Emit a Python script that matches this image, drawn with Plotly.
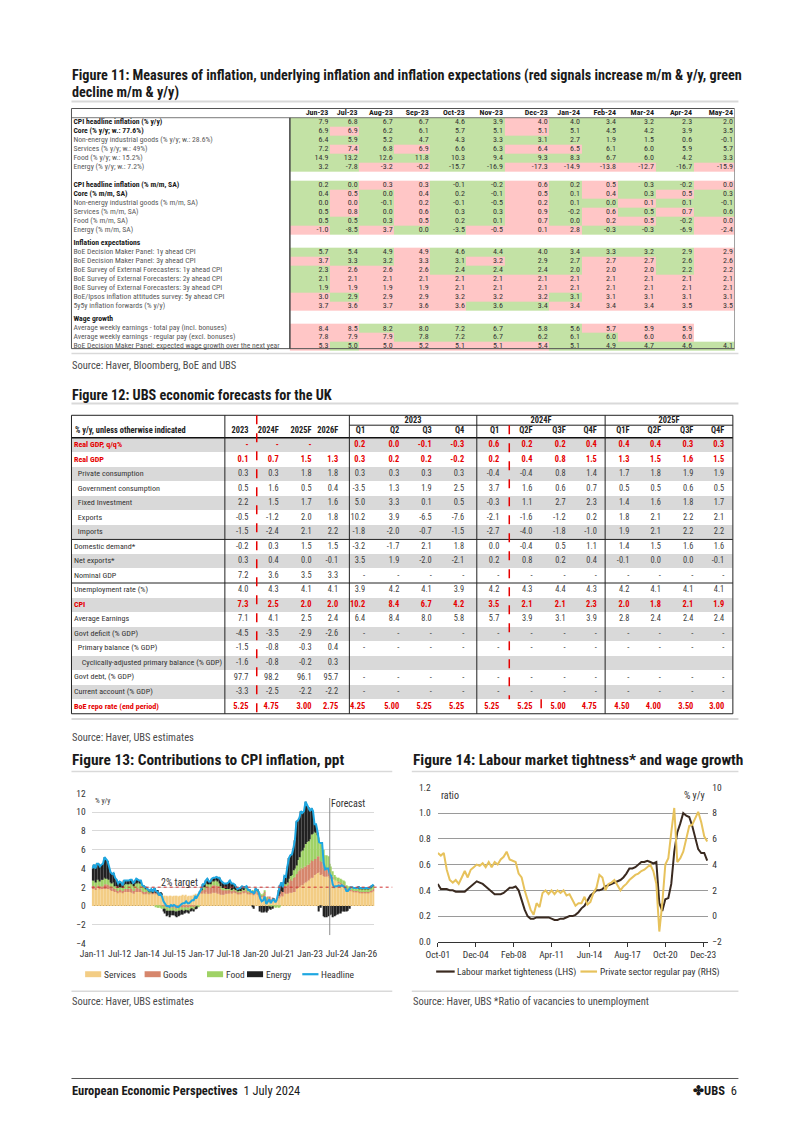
import plotly.graph_objects as go
import pandas as pd
import math

W, H = 802, 1134
NARROW = "Roboto Condensed, Liberation Sans Narrow, sans-serif"
TXT = "#3c3c3c"
DARK = "#1a1a1a"
RED = "#e60000"
GREEN_CELL = "#c3e2a5"
RED_CELL = "#ffc6c6"

# ======================= Figure 11 data =======================
months11 = ["Jun-23", "Jul-23", "Aug-23", "Sep-23", "Oct-23", "Nov-23",
            "Dec-23", "Jan-24", "Feb-24", "Mar-24", "Apr-24", "May-24"]
cpi_yy = [7.9, 6.8, 6.7, 6.7, 4.6, 3.9, 4.0, 4.0, 3.4, 3.2, 2.3, 2.0]
core_yy = [6.9, 6.9, 6.2, 6.1, 5.7, 5.1, 5.1, 5.1, 4.5, 4.2, 3.9, 3.5]
neig_yy = [6.4, 5.9, 5.2, 4.7, 4.3, 3.3, 3.1, 2.7, 1.9, 1.5, 0.6, -0.1]
serv_yy = [7.2, 7.4, 6.8, 6.9, 6.6, 6.3, 6.4, 6.5, 6.1, 6.0, 5.9, 5.7]
food_yy = [14.9, 13.2, 12.6, 11.8, 10.3, 9.4, 9.3, 8.3, 6.7, 6.0, 4.2, 3.3]
energy_yy = [3.2, -7.8, -3.2, -0.2, -15.7, -16.9, -17.3, -14.9, -13.8, -12.7, -16.7, -15.9]
cpi_mm = [0.2, 0.0, 0.3, 0.3, -0.1, -0.2, 0.6, 0.2, 0.5, 0.3, -0.2, 0.0]
core_mm = [0.4, 0.5, 0.0, 0.4, 0.2, -0.1, 0.5, 0.1, 0.4, 0.3, 0.5, 0.3]
neig_mm = [0.0, 0.0, -0.1, 0.2, -0.1, -0.5, 0.2, 0.1, 0.0, 0.1, 0.1, -0.1]
serv_mm = [0.5, 0.8, 0.0, 0.6, 0.3, 0.3, 0.9, -0.2, 0.6, 0.5, 0.7, 0.6]
food_mm = [0.5, 0.5, 0.3, 0.5, 0.2, 0.1, 0.7, 0.0, 0.2, 0.5, -0.2, 0.0]
energy_mm = [-1.0, -8.5, 3.7, 0.0, -3.5, -0.5, 0.1, 2.8, -0.3, -0.3, -6.9, -2.4]
dmp_1y = [5.7, 5.4, 4.9, 4.9, 4.6, 4.4, 4.0, 3.4, 3.3, 3.2, 2.9, 2.9]
dmp_3y = [3.7, 3.3, 3.2, 3.3, 3.1, 3.2, 2.9, 2.7, 2.7, 2.7, 2.6, 2.6]
sef_1y = [2.3, 2.6, 2.6, 2.6, 2.4, 2.4, 2.4, 2.0, 2.0, 2.0, 2.2, 2.2]
sef_2y = [2.1, 2.1, 2.1, 2.1, 2.1, 2.1, 2.1, 2.1, 2.1, 2.1, 2.1, 2.1]
sef_3y = [1.9, 1.9, 1.9, 1.9, 2.1, 2.1, 2.1, 2.1, 2.1, 2.1, 2.1, 2.1]
ipsos_5y = [3.0, 2.9, 2.9, 2.9, 3.2, 3.2, 3.2, 3.1, 3.1, 3.1, 3.1, 3.1]
fwd_5y5y = [3.7, 3.6, 3.7, 3.6, 3.6, 3.6, 3.4, 3.4, 3.4, 3.4, 3.5, 3.5]
awe_total = [8.4, 8.5, 8.2, 8.0, 7.2, 6.7, 5.8, 5.6, 5.7, 5.9, 5.9, None]
awe_regular = [7.8, 7.9, 7.9, 7.8, 7.2, 6.7, 6.2, 6.1, 6.0, 6.0, 6.0, None]
dmp_wage = [5.3, 5.0, 5.0, 5.2, 5.1, 5.1, 5.4, 5.1, 4.9, 4.7, 4.6, 4.1]
# signal per cell: R = increase (red), G = decline (green), - = empty
sig_cpi_yy = "GGGGGGRGGGGG"
sig_core_yy = "GRGGGGRGGGGG"
sig_neig_yy = "GGGGGGGGGGGG"
sig_serv_yy = "GRGRGGRRGGGG"
sig_food_yy = "GGGGGGGGGGGG"
sig_energy_yy = "GGRRGGRRRRGR"
sig_cpi_mm = "GGRRGGRGRGGR"
sig_core_mm = "GRGRGGRGRGRG"
sig_neig_mm = "GRGRGGRGGRGG"
sig_serv_mm = "GRGRGGRGRGRG"
sig_food_mm = "GGGRGGRGRRGR"
sig_energy_mm = "RGRGGRRRGGGR"
sig_dmp_1y = "GGGRGGGGGGGR"
sig_dmp_3y = "RGGRGRGGRRGR"
sig_sef_1y = "GRRRGGGGRRGR"
sig_sef_2y = "GRRRRRRRRRRR"
sig_sef_3y = "GRRRRRRRRRRR"
sig_ipsos_5y = "RGRRRRRGRRRR"
sig_fwd_5y5y = "RRRRRGGRRRRR"
sig_awe_total = "RRGGGGGGRRR-"
sig_awe_regular = "RRRGGGGGGRR-"
sig_dmp_wage = "RGRRRRRGGGGG"

# ======================= Figure 12 data =======================
cols12 = ["2023", "2024F", "2025F", "2026F", "Q1", "Q2", "Q3", "Q4",
          "Q1", "Q2F", "Q3F", "Q4F", "Q1F", "Q2F", "Q3F", "Q4F"]
groups12 = ["2023", "2024F", "2025F"]
D = None   # shown as "-"
B = ""     # blank cell
labels12 = ["Real GDP, q/q%", "Real GDP", "Private consumption", "Government consumption",
            "Fixed Investment", "Exports", "Imports", "Domestic demand*", "Net exports*",
            "Nominal GDP", "Unemployment rate (%)", "CPI", "Average Earnings",
            "Govt deficit (% GDP)", "Primary balance (% GDP)",
            "Cyclically-adjusted primary balance (% GDP)", "Govt debt, (% GDP)",
            "Current account (% GDP)", "BoE repo rate (end period)"]
red_rows12 = [0, 1, 11, 18]
real_gdp_qq = [D, D, D, B, 0.2, 0.0, -0.1, -0.3, 0.6, 0.2, 0.2, 0.4, 0.4, 0.4, 0.3, 0.3]
real_gdp = [0.1, 0.7, 1.5, 1.3, 0.3, 0.2, 0.2, -0.2, 0.2, 0.4, 0.8, 1.5, 1.3, 1.5, 1.6, 1.5]
priv_cons = [0.3, 0.3, 1.8, 1.8, 0.3, 0.3, 0.3, 0.3, -0.4, -0.4, 0.8, 1.4, 1.7, 1.8, 1.9, 1.9]
gov_cons = [0.5, 1.6, 0.5, 0.4, -3.5, 1.3, 1.9, 2.5, 3.7, 1.6, 0.6, 0.7, 0.5, 0.5, 0.6, 0.5]
fixed_inv = [2.2, 1.5, 1.7, 1.6, 5.0, 3.3, 0.1, 0.5, -0.3, 1.1, 2.7, 2.3, 1.4, 1.6, 1.8, 1.7]
exports = [-0.5, -1.2, 2.0, 1.8, 10.2, 3.9, -6.5, -7.6, -2.1, -1.6, -1.2, 0.2, 1.8, 2.1, 2.2, 2.1]
imports = [-1.5, -2.4, 2.1, 2.2, -1.8, -2.0, -0.7, -1.5, -2.7, -4.0, -1.8, -1.0, 1.9, 2.1, 2.2, 2.2]
dom_demand = [-0.2, 0.3, 1.5, 1.5, -3.2, -1.7, 2.1, 1.8, 0.0, -0.4, 0.5, 1.1, 1.4, 1.5, 1.6, 1.6]
net_exports = [0.3, 0.4, 0.0, -0.1, 3.5, 1.9, -2.0, -2.1, 0.2, 0.8, 0.2, 0.4, -0.1, 0.0, 0.0, -0.1]
nominal_gdp = [7.2, 3.6, 3.5, 3.3] + [D] * 12
unemployment = [4.0, 4.3, 4.1, 4.1, 3.9, 4.2, 4.1, 3.9, 4.2, 4.3, 4.4, 4.3, 4.2, 4.1, 4.1, 4.1]
cpi12 = [7.3, 2.5, 2.0, 2.0, 10.2, 8.4, 6.7, 4.2, 3.5, 2.1, 2.1, 2.3, 2.0, 1.8, 2.1, 1.9]
avg_earnings = [7.1, 4.1, 2.5, 2.4, 6.4, 8.4, 8.0, 5.8, 5.7, 3.9, 3.1, 3.9, 2.8, 2.4, 2.4, 2.4]
govt_deficit = [-4.5, -3.5, -2.9, -2.6] + [D] * 12
primary_bal = [-1.5, -0.8, -0.3, 0.4] + [D] * 12
cyc_primary_bal = [-1.6, -0.8, -0.2, 0.3] + [B] * 12
govt_debt = [97.7, 98.2, 96.1, 95.7] + [D] * 12
current_acct = [-3.3, -2.5, -2.2, -2.2] + [D] * 12
boe_rate = [5.25, 4.75, 3.00, 2.75, 4.25, 5.00, 5.25, 5.25, 5.25, 5.25, 5.00, 4.75, 4.50, 4.00, 3.50, 3.00]

# ======================= Figure 13 data (monthly, Jan-11 .. Jul-26) =======================
services = [
    1.8, 1.8, 1.7, 1.9, 1.9, 1.8, 1.8, 1.8, 1.8, 1.8, 1.8, 1.8,
    1.7, 1.6, 1.6, 1.5, 1.5, 1.4, 1.5, 1.5, 1.4, 1.5, 1.5, 1.5,
    1.5, 1.5, 1.4, 1.3, 1.5, 1.5, 1.5, 1.5, 1.5, 1.4, 1.3, 1.3,
    1.4, 1.3, 1.3, 1.4, 1.3, 1.4, 1.3, 1.3, 1.2, 1.3, 1.2, 1.1,
    1.1, 1.1, 1.0, 1.1, 1.1, 1.0, 1.1, 1.1, 1.1, 1.0, 1.1, 1.1,
    1.2, 1.1, 1.2, 1.0, 1.1, 1.1, 1.1, 1.2, 1.3, 1.2, 1.3, 1.4,
    1.3, 1.4, 1.3, 1.5, 1.3, 1.3, 1.3, 1.4, 1.4, 1.4, 1.4, 1.3,
    1.3, 1.2, 1.2, 1.2, 1.3, 1.3, 1.3, 1.4, 1.3, 1.4, 1.4, 1.4,
    1.3, 1.3, 1.3, 1.5, 1.4, 1.4, 1.4, 1.3, 1.3, 1.3, 1.3, 1.2,
    1.3, 1.2, 1.2, 1.0, 1.0, 1.0, 1.1, 0.5, 0.8, 0.7, 0.5, 0.6,
    0.5, 0.4, 0.6, 0.8, 0.9, 1.1, 1.0, 1.4, 1.3, 1.3, 1.4, 1.4,
    1.4, 1.5, 1.5, 1.8, 2.0, 2.0, 2.2, 2.2, 2.4, 2.5, 2.6, 2.7,
    2.9, 3.0, 3.0, 3.3, 3.4, 3.5, 3.6, 3.3, 3.4, 3.2, 3.1, 3.1,
    3.2, 3.0, 2.9, 2.9, 2.8, 2.7, 2.6, 2.5, 2.4, 2.3, 2.2, 2.1,
    1.8, 1.7, 1.7, 1.6, 1.6, 1.5, 1.5, 1.5, 1.5, 1.4, 1.4, 1.4,
    1.4, 1.4, 1.4, 1.4, 1.5, 1.5, 1.6]
goods = [
    0.3, 0.4, 0.3, 0.3, 0.3, 0.2, 0.3, 0.3, 0.5, 0.5, 0.5, 0.4,
    0.3, 0.3, 0.4, 0.3, 0.3, 0.2, 0.2, 0.2, 0.2, 0.3, 0.3, 0.3,
    0.3, 0.4, 0.4, 0.3, 0.3, 0.4, 0.4, 0.3, 0.3, 0.2, 0.2, 0.2,
    0.2, 0.1, 0.1, 0.1, 0.1, 0.2, 0.1, 0.0, 0.0, 0.0, -0.1, -0.1,
    -0.1, -0.2, -0.2, -0.2, -0.2, -0.2, -0.2, -0.3, -0.3, -0.2, -0.2, -0.2,
    -0.2, -0.2, -0.2, -0.2, -0.2, -0.1, -0.1, -0.2, -0.1, 0.0, 0.0, 0.2,
    0.3, 0.4, 0.4, 0.6, 0.6, 0.7, 0.7, 0.8, 0.8, 0.8, 0.8, 0.8,
    0.7, 0.6, 0.5, 0.5, 0.4, 0.4, 0.4, 0.4, 0.3, 0.3, 0.3, 0.2,
    0.2, 0.2, 0.2, 0.2, 0.2, 0.3, 0.3, 0.2, 0.2, 0.1, 0.2, 0.2,
    0.3, 0.3, 0.2, 0.2, 0.1, 0.2, 0.4, 0.3, 0.2, 0.3, 0.2, 0.3,
    0.2, 0.1, 0.2, 0.3, 0.4, 0.5, 0.5, 0.9, 0.8, 1.0, 1.2, 1.5,
    1.3, 1.5, 1.6, 1.6, 1.7, 1.8, 1.9, 1.8, 1.8, 1.7, 1.8, 1.7,
    1.7, 1.9, 1.8, 1.7, 1.6, 1.8, 1.7, 1.5, 1.3, 1.2, 0.9, 0.9,
    0.8, 0.5, 0.4, 0.2, 0.0, 0.0, 0.0, 0.1, 0.1, 0.1, 0.1, 0.1,
    0.1, 0.1, 0.1, 0.1, 0.1, 0.1, 0.1, 0.1, 0.1, 0.1, 0.1, 0.1,
    0.1, 0.1, 0.1, 0.1, 0.1, 0.2, 0.2]
food = [
    0.6, 0.5, 0.5, 0.6, 0.6, 0.6, 0.7, 0.7, 0.7, 0.6, 0.6, 0.6,
    0.5, 0.5, 0.5, 0.3, 0.3, 0.3, 0.3, 0.3, 0.3, 0.4, 0.5, 0.5,
    0.5, 0.5, 0.5, 0.6, 0.5, 0.5, 0.6, 0.6, 0.6, 0.6, 0.5, 0.3,
    0.3, 0.2, 0.1, 0.1, 0.0, 0.0, -0.1, -0.2, -0.2, -0.2, -0.2, -0.2,
    -0.2, -0.3, -0.3, -0.3, -0.3, -0.3, -0.3, -0.3, -0.3, -0.3, -0.3, -0.2,
    -0.3, -0.3, -0.2, -0.3, -0.3, -0.3, -0.2, -0.2, -0.1, -0.1, -0.1, 0.0,
    0.1, 0.2, 0.3, 0.3, 0.4, 0.4, 0.4, 0.4, 0.4, 0.5, 0.5, 0.5,
    0.4, 0.3, 0.2, 0.2, 0.1, 0.1, 0.1, 0.1, 0.1, 0.1, 0.1, 0.1,
    0.1, 0.1, 0.1, 0.1, 0.1, 0.2, 0.2, 0.2, 0.1, 0.1, 0.2, 0.2,
    0.1, 0.1, 0.1, 0.2, 0.1, 0.1, 0.1, 0.1, 0.0, -0.1, -0.1, -0.1,
    -0.1, -0.2, -0.1, -0.2, -0.1, 0.0, 0.0, 0.1, 0.2, 0.2, 0.3, 0.3,
    0.6, 0.8, 0.9, 0.9, 1.2, 1.4, 1.7, 1.9, 2.0, 2.4, 2.4, 2.5,
    2.5, 2.7, 2.9, 2.9, 2.8, 2.3, 2.0, 1.9, 1.8, 1.6, 1.4, 1.4,
    1.3, 1.0, 0.9, 0.6, 0.5, 0.4, 0.4, 0.4, 0.4, 0.4, 0.4, 0.4,
    0.3, 0.3, 0.3, 0.3, 0.3, 0.3, 0.3, 0.3, 0.3, 0.3, 0.3, 0.3,
    0.3, 0.3, 0.3, 0.3, 0.3, 0.3, 0.3]
energy = [
    1.3, 1.7, 1.5, 1.7, 1.7, 1.6, 1.6, 1.7, 2.2, 2.1, 1.9, 1.4,
    1.1, 1.0, 1.0, 0.9, 0.7, 0.5, 0.6, 0.5, 0.3, 0.5, 0.4, 0.4,
    0.4, 0.4, 0.5, 0.2, 0.4, 0.5, 0.3, 0.3, 0.3, 0.0, 0.1, 0.2,
    0.0, 0.1, 0.1, 0.2, 0.1, 0.3, 0.3, 0.4, 0.2, 0.2, 0.1, -0.3,
    -0.5, -0.6, -0.5, -0.7, -0.5, -0.5, -0.5, -0.5, -0.6, -0.6, -0.5, -0.5,
    -0.4, -0.3, -0.3, -0.2, -0.3, -0.2, -0.2, -0.2, -0.1, -0.2, 0.0, 0.0,
    0.1, 0.3, 0.3, 0.3, 0.6, 0.2, 0.2, 0.3, 0.4, 0.3, 0.4, 0.4,
    0.6, 0.6, 0.6, 0.5, 0.6, 0.6, 0.7, 0.8, 0.7, 0.6, 0.5, 0.4,
    0.2, 0.3, 0.3, 0.3, 0.3, 0.1, 0.2, 0.0, 0.1, 0.0, -0.1, -0.3,
    0.1, 0.1, 0.0, -0.6, -0.7, -0.7, -0.6, -0.7, -0.5, -0.2, -0.3, -0.2,
    0.1, 0.1, 0.0, 0.6, 0.9, 0.9, 0.5, 0.8, 0.8, 1.7, 2.2, 2.2,
    2.2, 2.4, 3.0, 4.7, 4.2, 4.2, 4.3, 4.0, 3.9, 4.5, 3.9, 3.6,
    3.0, 2.8, 2.4, 0.8, 0.9, 0.2, -0.6, -0.2, 0.0, -1.1, -1.2, -1.2,
    -1.1, -1.0, -0.9, -1.2, -1.1, -1.0, -0.9, -0.8, -0.8, -0.6, -0.6, -0.6,
    -0.6, -0.5, -0.3, 0.0, 0.0, 0.0, 0.0, 0.0, 0.1, 0.1, 0.1, 0.1,
    0.1, 0.1, 0.1, 0.1, 0.1, 0.1, 0.1]
headline = [
    4.0, 4.4, 4.0, 4.5, 4.5, 4.2, 4.4, 4.5, 5.2, 5.0, 4.8, 4.2,
    3.6, 3.4, 3.5, 3.0, 2.8, 2.4, 2.6, 2.5, 2.2, 2.7, 2.7, 2.7,
    2.7, 2.8, 2.8, 2.4, 2.7, 2.9, 2.8, 2.7, 2.7, 2.2, 2.1, 2.0,
    1.9, 1.7, 1.6, 1.8, 1.5, 1.9, 1.6, 1.5, 1.2, 1.3, 1.0, 0.5,
    0.3, 0.0, 0.0, -0.1, 0.1, 0.0, 0.1, 0.0, -0.1, -0.1, 0.1, 0.2,
    0.3, 0.3, 0.5, 0.3, 0.3, 0.5, 0.6, 0.6, 1.0, 0.9, 1.2, 1.6,
    1.8, 2.3, 2.3, 2.7, 2.9, 2.6, 2.6, 2.9, 3.0, 3.0, 3.1, 3.0,
    3.0, 2.7, 2.5, 2.4, 2.4, 2.4, 2.5, 2.7, 2.4, 2.4, 2.3, 2.1,
    1.8, 1.9, 1.9, 2.1, 2.0, 2.0, 2.1, 1.7, 1.7, 1.5, 1.5, 1.3,
    1.8, 1.7, 1.5, 0.8, 0.5, 0.6, 1.0, 0.2, 0.5, 0.7, 0.3, 0.6,
    0.7, 0.4, 0.7, 1.5, 2.1, 2.5, 2.0, 3.2, 3.1, 4.2, 5.1, 5.4,
    5.5, 6.2, 7.0, 9.0, 9.1, 9.4, 10.1, 9.9, 10.1, 11.1, 10.7, 10.5,
    10.1, 10.4, 10.1, 8.7, 8.7, 7.9, 6.8, 6.7, 6.7, 4.6, 3.9, 4.0,
    4.0, 3.4, 3.2, 2.3, 2.0, 2.1, 2.1, 2.2, 2.1, 2.2, 2.1, 2.0,
    1.6, 1.6, 1.8, 2.0, 2.0, 1.9, 1.9, 1.9, 2.0, 1.9, 1.9, 1.9,
    1.9, 1.9, 1.9, 1.9, 2.0, 2.2, 2.3]
ticks13 = ["Jan-11", "Jul-12", "Jan-14", "Jul-15", "Jan-17", "Jul-18",
           "Jan-20", "Jul-21", "Jan-23", "Jul-24", "Jan-26"]
forecast_start = "2024-02-01"
target13 = 2

# ======================= Figure 14 data (quarterly, Oct-01 .. Apr-24) =======================
tightness = [
    0.45,
    0.41, 0.41, 0.41, 0.40,
    0.40, 0.39, 0.39, 0.39,
    0.39, 0.41, 0.43, 0.45,
    0.47, 0.46, 0.45, 0.43,
    0.41, 0.39, 0.37, 0.37,
    0.37, 0.38, 0.40, 0.42,
    0.42, 0.43, 0.40, 0.33,
    0.25, 0.20, 0.18, 0.18,
    0.19, 0.19, 0.19, 0.19,
    0.19, 0.18, 0.17, 0.17,
    0.18, 0.18, 0.19, 0.20,
    0.20, 0.21, 0.23, 0.26,
    0.28, 0.32, 0.36, 0.38,
    0.40, 0.40, 0.41, 0.43,
    0.44, 0.45, 0.46, 0.47,
    0.48, 0.50, 0.53, 0.57,
    0.57, 0.58, 0.60, 0.62,
    0.62, 0.63, 0.62, 0.61,
    0.62, 0.30, 0.24, 0.33,
    0.34, 0.45, 0.70, 0.85,
    0.92, 1.00, 0.98, 0.97,
    0.90, 0.80, 0.72, 0.69,
    0.69, 0.63]
private_pay = [
    4.9,
    4.7, 4.9, 3.6, 2.8,
    2.6, 2.8, 2.5, 3.0,
    3.5, 3.0, 3.6, 3.8,
    4.0, 3.9, 4.1, 3.8,
    4.2, 3.8, 4.2, 4.0,
    4.4, 4.6, 5.0, 4.4,
    4.3, 4.2, 3.3, 3.0,
    2.0, 1.2, 0.5, 0.1,
    1.0, 0.7, 1.8, 2.0,
    1.7, 2.0, 1.7, 2.0,
    1.8, 2.0, 1.6, 1.7,
    1.2, 0.8, 1.0, 1.0,
    1.5, 0.9, 1.1, 1.8,
    2.2, 3.2, 3.0, 2.0,
    2.5, 2.6, 2.8, 2.4,
    2.0, 2.3, 2.5, 2.8,
    3.0, 3.2, 3.3, 3.5,
    3.6, 3.8, 4.0, 3.5,
    2.5, -1.2, 1.0, 4.0,
    4.5, 6.5, 8.4, 4.2,
    4.5, 5.0, 6.0, 7.0,
    7.1, 7.6, 8.1, 7.3,
    6.2, 5.8]
ticks14 = ["Oct-01", "Dec-04", "Feb-08", "Apr-11", "Jun-14", "Aug-17", "Oct-20", "Dec-23"]

# ======================= helpers =======================
fig = go.Figure()
shapes, annos = [], []


def px_x(x):
    return x / W


def px_y(y):
    return 1 - y / H


def hline(y, x0, x1, color="#333333", width=1, dash=None):
    shapes.append(dict(type="line", xref="x3", yref="y3", x0=x0, x1=x1, y0=y, y1=y,
                       line=dict(color=color, width=width, dash=dash)))


def vline(x, y0, y1, color="#333333", width=1, dash=None):
    shapes.append(dict(type="line", xref="x3", yref="y3", x0=x, x1=x, y0=y0, y1=y1,
                       line=dict(color=color, width=width, dash=dash)))


def text(x, y, s, size, color=TXT, family=NARROW, xanchor="left", yanchor="middle"):
    annos.append(dict(xref="x3", yref="y3", x=x, y=y, text=s, showarrow=False,
                      font=dict(size=size, color=color, family=family),
                      xanchor=xanchor, yanchor=yanchor, borderpad=0))


def fmt(v, d=1):
    if v is None:
        return "-"
    if v == "":
        return ""
    return f"{v:.{d}f}"


RULE = "#d9d9d9"
TITLE = 14.2
TITLE_B = 15.4
SRC = 10.5
LEG = 9.5

# ======================= Figure 11 =======================
text(61, 70, "<b>Figure 11: Measures of inflation, underlying inflation and inflation expectations "
             "(red signals increase m/m & y/y, green</b>", TITLE, DARK)
text(61, 87, "<b>decline m/m & y/y)</b>", TITLE, DARK)
hline(96.5, 61, 745, RULE, 2)

rows11 = [
    ("CPI headline inflation (% y/y)", cpi_yy, sig_cpi_yy, True, 0),
    ("Core (% y/y; w.: 77.6%)", core_yy, sig_core_yy, True, 0),
    ("Non-energy industrial goods (% y/y; w.: 28.6%)", neig_yy, sig_neig_yy, False, 0),
    ("Services (% y/y; w.: 49%)", serv_yy, sig_serv_yy, False, 0),
    ("Food (% y/y; w.: 15.2%)", food_yy, sig_food_yy, False, 0),
    ("Energy (% y/y; w.: 7.2%)", energy_yy, sig_energy_yy, False, 0),
    ("CPI headline inflation (% m/m, SA)", cpi_mm, sig_cpi_mm, True, 1),
    ("Core (% m/m, SA)", core_mm, sig_core_mm, True, 0),
    ("Non-energy industrial goods (% m/m, SA)", neig_mm, sig_neig_mm, False, 0),
    ("Services (% m/m, SA)", serv_mm, sig_serv_mm, False, 0),
    ("Food (% m/m, SA)", food_mm, sig_food_mm, False, 0),
    ("Energy (% m/m, SA)", energy_mm, sig_energy_mm, False, 0),
    ("Inflation expectations", None, None, True, 0.5),
    ("BoE Decision Maker Panel: 1y ahead CPI", dmp_1y, sig_dmp_1y, False, 0),
    ("BoE Decision Maker Panel: 3y ahead CPI", dmp_3y, sig_dmp_3y, False, 0),
    ("BoE Survey of External Forecasters: 1y ahead CPI", sef_1y, sig_sef_1y, False, 0),
    ("BoE Survey of External Forecasters: 2y ahead CPI", sef_2y, sig_sef_2y, False, 0),
    ("BoE Survey of External Forecasters: 3y ahead CPI", sef_3y, sig_sef_3y, False, 0),
    ("BoE/Ipsos inflation attitudes survey: 5y ahead CPI", ipsos_5y, sig_ipsos_5y, False, 0),
    ("5y5y inflation forwards (% y/y)", fwd_5y5y, sig_fwd_5y5y, False, 0),
    ("Wage growth", None, None, True, 0.5),
    ("Average weekly earnings - total pay (incl. bonuses)", awe_total, sig_awe_total, False, 0),
    ("Average weekly earnings - regular pay (excl. bonuses)", awe_regular, sig_awe_regular, False, 0),
    ("BoE Decision Maker Panel: expected wage growth over the next year", dmp_wage, sig_dmp_wage, False, 0),
]
T11_Y0, T11_P = 117.3, 9.06
T11_LEFT = 285
T11_RIGHTS = [326, 356, 392, 429, 466, 505, 551, 584, 621, 660, 699, 741]
x_edges11 = [T11_LEFT] + T11_RIGHTS

slots, s = [], 0.0
for i, r in enumerate(rows11):
    if i > 0:
        s += 1 + r[4]
    slots.append(s)

y_edges11, z11 = [], []
cur = None
for r, sl in zip(rows11, slots):
    top = T11_Y0 + (sl - 0.5) * T11_P
    bot = T11_Y0 + (sl + 0.5) * T11_P
    if cur is None:
        y_edges11.append(top)
    elif top > cur + 1e-6:
        z11.append([math.nan] * 12)
        y_edges11.append(top)
    if r[1] is None:
        z11.append([math.nan] * 12)
    else:
        z11.append([1 if c == "R" else (0 if c == "G" else math.nan) for c in r[2]])
    y_edges11.append(bot)
    cur = bot

fig.add_trace(go.Heatmap(x=x_edges11, y=y_edges11, z=z11, zmin=0, zmax=1,
                         colorscale=[[0, GREEN_CELL], [0.5, GREEN_CELL], [0.5, RED_CELL], [1, RED_CELL]],
                         showscale=False, hoverinfo="skip", xaxis="x3", yaxis="y3"))

lab_x, lab_y, lab_t, lab_c = [], [], [], []
val_x, val_y, val_t = [], [], []
for r, sl in zip(rows11, slots):
    yc = T11_Y0 + sl * T11_P
    lab_x.append(63)
    lab_y.append(yc)
    lab_t.append(f"<b>{r[0]}</b>" if r[3] else r[0])
    lab_c.append(DARK if r[3] else "#5a5a5a")
    if r[1] is not None:
        for j, v in enumerate(r[1]):
            if v is not None:
                val_x.append(T11_RIGHTS[j] - 1.5)
                val_y.append(yc)
                val_t.append(fmt(v))
fig.add_trace(go.Scatter(x=lab_x, y=lab_y, text=lab_t, mode="text", textposition="middle right",
                         textfont=dict(size=7.7, color=lab_c, family=NARROW),
                         hoverinfo="skip", xaxis="x3", yaxis="y3", cliponaxis=False))
fig.add_trace(go.Scatter(x=val_x, y=val_y, text=val_t, mode="text", textposition="middle left",
                         textfont=dict(size=8, color="#333333", family=NARROW),
                         hoverinfo="skip", xaxis="x3", yaxis="y3", cliponaxis=False))
fig.add_trace(go.Scatter(x=[rx - 1.5 for rx in T11_RIGHTS], y=[107.8] * 12,
                         text=[f"<b>{m}</b>" for m in months11], mode="text", textposition="middle left",
                         textfont=dict(size=8, color=DARK, family=NARROW),
                         hoverinfo="skip", xaxis="x3", yaxis="y3", cliponaxis=False))
T11_TOP, T11_BOT = 103.5, 346
hline(T11_TOP, 61, 741, "#555555", 1)
hline(112.8, 61, 741, "#555555", 0.8)
hline(T11_BOT, 61, 741, "#555555", 1)
vline(61, T11_TOP, T11_BOT, "#555555", 1)
vline(T11_LEFT, 112.8, T11_BOT, "#444444", 1.5)
vline(741, T11_TOP, T11_BOT, "#888888", 0.8)
hline(351, 61, 745, RULE, 1.5)
text(61, 363.5, "Source: Haver, Bloomberg, BoE and UBS", SRC, "#4a4a4a")

# ======================= Figure 12 =======================
text(61, 393, "<b>Figure 12: UBS economic forecasts for the UK</b>", TITLE, DARK)
hline(401.5, 61, 745, RULE, 2)

rows12 = [real_gdp_qq, real_gdp, priv_cons, gov_cons, fixed_inv, exports, imports,
          dom_demand, net_exports, nominal_gdp, unemployment, cpi12, avg_earnings,
          govt_deficit, primary_bal, cyc_primary_bal, govt_debt, current_acct, boe_rate]
indent12 = [0, 0, 1, 1, 1, 1, 1, 0, 0, 0, 0, 0, 0, 0, 1, 2, 0, 0, 0]
grey_rows12 = [0, 2, 4, 6, 8, 11, 13, 15, 17]
T12_Y0, T12_P = 443.3, 14.67
T12_V = [61, 218.3, 346, 476.7, 608.3, 739.3]
T12_RIGHTS = [242, 273, 306.7, 334, 361.7, 396.7, 430, 463.3,
              499.3, 533.3, 567.3, 599.3, 632.7, 665, 698.3, 730]
T12_TOP = 413.3
T12_FS = 8.1
n12 = len(rows12)
y_edges12 = [T12_Y0 + (i - 0.5) * T12_P for i in range(n12 + 1)]
z12 = [[1] if i in grey_rows12 else [math.nan] for i in range(n12)]
fig.add_trace(go.Heatmap(x=[T12_V[0], T12_V[-1]], y=y_edges12, z=z12, zmin=0, zmax=1,
                         colorscale=[[0, "#d9d9d9"], [1, "#d9d9d9"]], showscale=False,
                         hoverinfo="skip", xaxis="x3", yaxis="y3"))

lx, ly, lt, lc = [], [], [], []
vx, vy, vt, vc = [], [], [], []
for i, (lab, vals) in enumerate(zip(labels12, rows12)):
    yc = T12_Y0 + i * T12_P
    red = i in red_rows12
    lx.append(63.5 + indent12[i] * 4)
    ly.append(yc)
    lt.append(f"<b>{lab}</b>" if red else lab)
    lc.append(RED if red else "#333333")
    dec = 2 if i == n12 - 1 else 1
    for j, v in enumerate(vals):
        sv = fmt(v, dec)
        if sv == "":
            continue
        vx.append(T12_RIGHTS[j] + 0.5)
        vy.append(yc)
        vt.append(f"<b>{sv}</b>" if red else sv)
        vc.append(RED if red else "#404040")
fig.add_trace(go.Scatter(x=lx, y=ly, text=lt, mode="text", textposition="middle right",
                         textfont=dict(size=T12_FS, color=lc, family=NARROW),
                         hoverinfo="skip", xaxis="x3", yaxis="y3", cliponaxis=False))
fig.add_trace(go.Scatter(x=vx, y=vy, text=vt, mode="text", textposition="middle left",
                         textfont=dict(size=T12_FS + 0.3, color=vc, family=NARROW),
                         hoverinfo="skip", xaxis="x3", yaxis="y3", cliponaxis=False))
hdr_y = T12_Y0 - T12_P
fig.add_trace(go.Scatter(x=[r + 0.5 for r in T12_RIGHTS], y=[hdr_y] * len(cols12),
                         text=[f"<b>{c}</b>" for c in cols12], mode="text", textposition="middle left",
                         textfont=dict(size=T12_FS + 0.3, color="#222222", family=NARROW),
                         hoverinfo="skip", xaxis="x3", yaxis="y3", cliponaxis=False))
grp_x = [(T12_V[k] + T12_V[k + 1]) / 2 for k in range(2, 5)]
fig.add_trace(go.Scatter(x=grp_x, y=[418.6] * 3, text=[f"<b>{g}</b>" for g in groups12],
                         mode="text", textposition="middle center",
                         textfont=dict(size=T12_FS + 0.3, color="#222222", family=NARROW),
                         hoverinfo="skip", xaxis="x3", yaxis="y3", cliponaxis=False))
text(63.5, hdr_y, "<b>% y/y, unless otherwise indicated</b>", T12_FS + 0.3, "#222222")

T12_BOT = T12_Y0 + (n12 - 0.5) * T12_P
hline(T12_TOP, T12_V[0], T12_V[-1], "#222222", 1)
hline(423.3, T12_V[2], T12_V[-1], "#222222", 1)
hline(T12_Y0 - 0.5 * T12_P, T12_V[0], T12_V[-1], "#111111", 1.5)
hline(T12_Y0 + 6.5 * T12_P, T12_V[0], T12_V[-1], "#222222", 1)
hline(T12_Y0 + 9.5 * T12_P, T12_V[0], T12_V[-1], "#222222", 1)
hline(T12_BOT, T12_V[0], T12_V[-1], "#222222", 1)
for xv in T12_V:
    vline(xv, T12_TOP, T12_BOT, "#222222", 1)
vline(251, T12_TOP, T12_BOT, RED, 1.5, "dash")
vline(510, 423.3, T12_Y0 + 17.5 * T12_P, RED, 1.5, "dash")
vline(542.7, T12_Y0 + 17.5 * T12_P, T12_BOT, RED, 1.5, "dash")
hline(720, 61, 745, RULE, 2)
text(61, 738.5, "Source: Haver, UBS estimates", SRC, "#4a4a4a")

# ======================= Figure 13 =======================
text(61, 761, "<b>Figure 13: Contributions to CPI inflation, ppt</b>", TITLE_B, DARK)
text(410, 761, "<b>Figure 14: Labour market tightness* and wage growth</b>", TITLE_B, DARK)
hline(773, 61, 390, RULE, 1.5)
hline(773, 410, 745, RULE, 1.5)

dates13 = pd.date_range("2011-01-01", periods=len(headline), freq="MS")
C_SERV, C_GOODS, C_FOOD, C_ENERGY, C_HEAD = "#f3cd85", "#d6866c", "#9fd266", "#222222", "#1ea7e1"
for name, vals, col in [("Services", services, C_SERV), ("Goods", goods, C_GOODS),
                        ("Food", food, C_FOOD), ("Energy", energy, C_ENERGY)]:
    fig.add_trace(go.Bar(x=dates13, y=vals, name=name, marker=dict(color=col, line=dict(width=0)),
                         xaxis="x", yaxis="y", showlegend=False, hoverinfo="skip"))
fig.add_trace(go.Scatter(x=dates13, y=headline, mode="lines", name="Headline",
                         line=dict(color=C_HEAD, width=2), xaxis="x", yaxis="y", showlegend=False))

F13_L, F13_R, F13_T, F13_B = 81.7, 371.7, 795, 946.7
tickvals13 = pd.date_range("2011-01-01", periods=len(ticks13), freq="18MS")
shapes.append(dict(type="line", xref="x", yref="y", x0=forecast_start, x1=forecast_start,
                   y0=-3.1, y1=11.5, line=dict(color="#8c8c8c", width=1)))
shapes.append(dict(type="line", xref="x3", yref="y", x0=F13_L, x1=390, y0=target13, y1=target13,
                   line=dict(color="#d03030", width=1, dash="dot")))
text(151.5, 885, "2% target", 10, "#333333")
text(326, 805.5, "Forecast", 10, "#333333")
text(84, 802.5, "% y/y", 7.5, "#333333")

leg_y = 977.7
for x0, lab, col in [(75, "Services", C_SERV), (136, "Goods", C_GOODS),
                     (200, "Food", C_FOOD), (241, "Energy", C_ENERGY)]:
    shapes.append(dict(type="rect", xref="x3", yref="y3", x0=x0, x1=x0 + 16.5, y0=leg_y - 3,
                       y1=leg_y + 3, fillcolor=col, line=dict(width=0)))
    text(x0 + 18, leg_y, lab, LEG, "#333333")
hline(leg_y, 297.7, 314.3, C_HEAD, 2.2)
text(316, leg_y, "Headline", LEG, "#333333")
hline(995, 61, 390, RULE, 1.5)
text(61, 1005.5, "Source: Haver, UBS estimates", SRC, "#4a4a4a")

# ======================= Figure 14 =======================
dates14 = pd.date_range("2001-10-01", periods=len(tightness), freq="QS-OCT")
C_TIGHT, C_PAY = "#3a2a20", "#e7c25c"
fig.add_trace(go.Scatter(x=dates14, y=tightness, mode="lines", name="Labour market tighteness (LHS)",
                         line=dict(color=C_TIGHT, width=2), xaxis="x2", yaxis="y2", showlegend=False))
fig.add_trace(go.Scatter(x=dates14, y=private_pay, mode="lines", name="Private sector regular pay (RHS)",
                         line=dict(color=C_PAY, width=2), xaxis="x2", yaxis="y4", showlegend=False))
F14_L, F14_R, F14_T, F14_B = 436.7, 714, 789, 945
tickvals14 = pd.date_range("2001-10-01", periods=len(ticks14), freq="38MS")
text(438.5, 797, "ratio", 10, "#333333")
text(712, 797, "% y/y", 10, "#333333", xanchor="right")
leg14_y = 975
hline(leg14_y, 435, 454, C_TIGHT, 2.2)
text(455.5, leg14_y, "Labour market tighteness (LHS)", LEG, "#333333")
hline(leg14_y, 583, 600, C_PAY, 2.2)
text(601.5, leg14_y, "Private sector regular pay (RHS)", LEG, "#333333")
hline(995, 410, 745, RULE, 1.5)
text(410, 1005.5, "Source: Haver, UBS *Ratio of vacancies to unemployment", SRC, "#4a4a4a")

# ======================= Footer =======================
hline(1083, 61, 745, "#555555", 1)
text(61, 1095, "<b>European Economic Perspectives</b>  1 July 2024", 12.5, DARK)
text(745, 1095, "<b>✤UBS</b>  6", 12.5, DARK, xanchor="right")

tickfont = dict(size=9.5, color="#333333", family=NARROW)
fig.update_layout(
    width=W, height=H, margin=dict(l=0, r=0, t=0, b=0),
    paper_bgcolor="white", plot_bgcolor="rgba(0,0,0,0)",
    barmode="relative", bargap=0.22, showlegend=False,
    shapes=shapes, annotations=annos,
    xaxis=dict(domain=[px_x(F13_L), px_x(F13_R)], type="date",
               range=["2010-12-16", "2026-07-20"], tickvals=list(tickvals13), ticktext=ticks13,
               tickangle=0, showgrid=False, zeroline=False, showline=False, ticks="",
               tickfont=tickfont, ticklabelstandoff=3, anchor="y", fixedrange=True),
    yaxis=dict(domain=[px_y(F13_B), px_y(F13_T)], range=[-4, 12], dtick=2,
               showgrid=True, gridcolor="#d9d9d9", gridwidth=1, zeroline=True,
               zerolinecolor="#333333", zerolinewidth=1, ticks="", tickfont=tickfont,
               ticklabelstandoff=5, anchor="x", fixedrange=True),
    xaxis2=dict(domain=[px_x(F14_L), px_x(F14_R)], type="date",
                range=["2001-10-01", "2024-05-01"], tickvals=list(tickvals14), ticktext=ticks14,
                tickangle=0, showgrid=False, zeroline=False, showline=True, linecolor="#333333",
                linewidth=1, ticks="outside", ticklen=4, tickcolor="#333333", tickfont=tickfont,
                anchor="y2", fixedrange=True),
    yaxis2=dict(domain=[px_y(F14_B), px_y(F14_T)], range=[0, 1.2], dtick=0.2, tickformat=".1f",
                showgrid=True, gridcolor="#9a9a9a", gridwidth=1, zeroline=False, ticks="",
                tickfont=tickfont, ticklabelstandoff=6, anchor="x2", fixedrange=True),
    yaxis4=dict(domain=[px_y(F14_B), px_y(F14_T)], range=[-2, 10], dtick=2, overlaying="y2",
                side="right", showgrid=False, zeroline=False, ticks="", tickfont=tickfont,
                ticklabelstandoff=3, anchor="x2", fixedrange=True),
    xaxis3=dict(domain=[0, 1], range=[0, W], visible=False, fixedrange=True, anchor="y3"),
    yaxis3=dict(domain=[0, 1], range=[H, 0], visible=False, fixedrange=True, anchor="x3"),
)

fig.write_html("out.html", config={"displayModeBar": False},
               post_script="document.body.style.margin='0';")
